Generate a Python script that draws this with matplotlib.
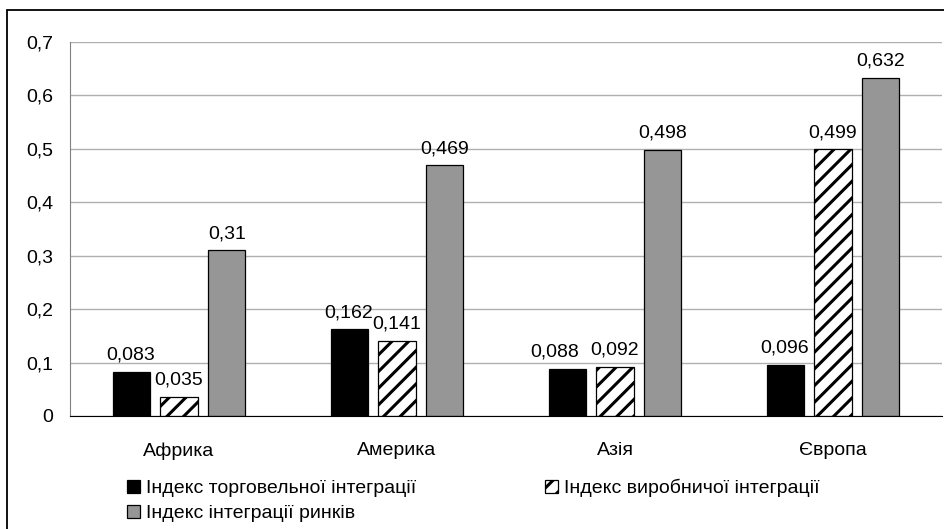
import numpy as np
import matplotlib
matplotlib.use("Agg")
import matplotlib.pyplot as plt
from matplotlib.patches import Patch, Rectangle

plt.rcParams["font.family"] = ["Liberation Sans", "DejaVu Sans"]
plt.rcParams["hatch.linewidth"] = 2.2

# -------------------------------------------------
# Data
# -------------------------------------------------
regions = ["Африка", "Америка", "Азія", "Європа"]
trade_index = [0.083, 0.162, 0.088, 0.096]
production_index = [0.035, 0.141, 0.092, 0.499]
market_index = [0.31, 0.469, 0.498, 0.632]

series_names = [
    "Індекс торговельної інтеграції",
    "Індекс виробничої інтеграції",
    "Індекс інтеграції ринків",
]
y_ticks = [0, 0.1, 0.2, 0.3, 0.4, 0.5, 0.6, 0.7]


def comma(v):
    s = f"{v:g}"
    return s.replace(".", ",")


FS = 14
# label nudges (series, region) -> dx in points, to keep labels apart
NUDGE = {(0, 2): -9}

# -------------------------------------------------
# Figure + layout
# -------------------------------------------------
DPI = 100
fig = plt.figure(figsize=(944 / DPI, 529 / DPI), dpi=DPI)
fig.patch.set_facecolor("white")
ax = fig.add_axes([70 / 944, 1 - 416 / 529, 872 / 944, 374 / 529])

# outer frame (cut off at right and bottom)
fig.patches.append(Rectangle((7 / 944, -0.1), 2.0, 1 - 10 / 529 + 0.1,
                             transform=fig.transFigure, fill=False,
                             edgecolor="black", linewidth=1.3))

x = np.arange(len(regions))
w = 0.17
step = 0.22

styles = [
    dict(color="black", edgecolor="black"),
    dict(color="white", edgecolor="black", hatch="//"),
    dict(color="#969696", edgecolor="black"),
]
values = [trade_index, production_index, market_index]

for i, (vals, st) in enumerate(zip(values, styles)):
    pos = x + (i - 1) * step
    ax.bar(pos, vals, width=w, linewidth=0.9, zorder=3, **st)
    for j, (px, v) in enumerate(zip(pos, vals)):
        dx = NUDGE.get((i, j), 0)
        ax.annotate(comma(v), (px, v), xytext=(dx, 6), textcoords="offset points",
                    ha="center", va="bottom", fontsize=FS)

ax.set_xlim(-0.5, len(regions) - 0.5)
ax.set_ylim(0, 0.7)
ax.set_yticks(y_ticks)
ax.set_yticklabels([comma(t) for t in y_ticks], fontsize=FS)
ax.set_xticks(x)
ax.set_xticklabels(regions, fontsize=FS)
ax.tick_params(axis="y", length=0, pad=12)
ax.tick_params(axis="x", length=0, pad=19)

ax.grid(axis="y", color="#b0b0b0", linewidth=1, zorder=0)
ax.set_axisbelow(True)
for s in ["top", "right"]:
    ax.spines[s].set_visible(False)
ax.spines["left"].set_color("#808080")
ax.spines["bottom"].set_color("black")
ax.spines["bottom"].set_zorder(4)

# -------------------------------------------------
# Legend
# -------------------------------------------------
handles = [Patch(facecolor=st["color"], edgecolor="black",
                 hatch=st.get("hatch"), linewidth=0.9) for st in styles]
order = [0, 2, 1]
fig.legend([handles[k] for k in order], [series_names[k] for k in order],
           loc="upper left", bbox_to_anchor=(127 / 944, 1 - 479 / 529),
           ncol=2, frameon=False, fontsize=FS, handlelength=0.68,
           handleheight=0.68, handletextpad=0.32, columnspacing=6.6,
           labelspacing=0.38, borderaxespad=0, borderpad=0)

fig.savefig("out.png", dpi=DPI, facecolor=fig.get_facecolor())
